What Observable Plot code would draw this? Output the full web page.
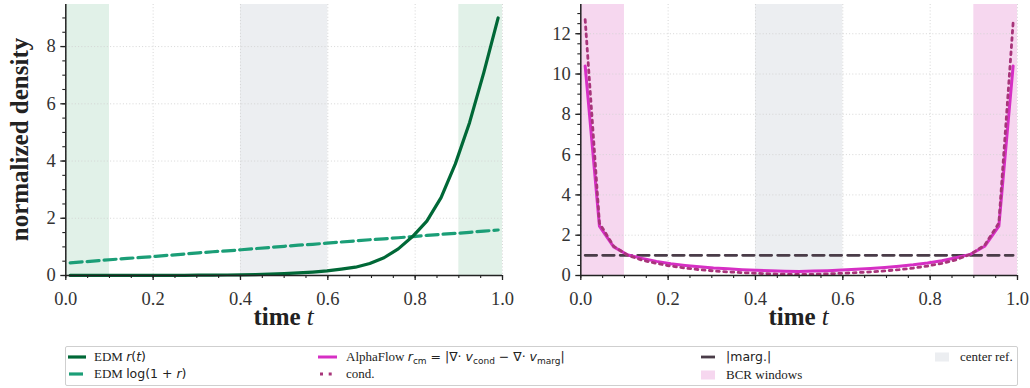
<!DOCTYPE html>
<html><head><meta charset="utf-8">
<script src="https://cdn.jsdelivr.net/npm/d3@7"></script>
<script src="https://cdn.jsdelivr.net/npm/@observablehq/plot@0.6"></script>
<style>
body{margin:0;background:#fff;}
#wrap{position:relative;width:1030px;height:388px;overflow:hidden;font-family:"Liberation Serif",serif;color:#222;}
.panel{position:absolute;top:0;}
#legend{position:absolute;left:65px;top:346px;width:953px;height:40px;border:1px solid #cfcfcf;border-radius:2px;box-sizing:border-box;}
.lt{position:absolute;font-size:13px;line-height:16px;height:16px;white-space:nowrap;color:#222;}
.m{font-family:"DejaVu Sans",sans-serif;font-size:12.5px;}
.mi{font-family:"DejaVu Sans",sans-serif;font-style:italic;font-size:12.5px;}
.sub{font-family:"DejaVu Sans",sans-serif;font-size:9px;position:relative;top:3px;}
#lsvg{position:absolute;left:0;top:0;}
</style></head><body><div id="wrap"></div>
<script>
// ---- data ----
const tGrid = [0.0100,0.0427,0.0753,0.1080,0.1407,0.1733,0.2060,0.2387,0.2713,0.3040,0.3367,0.3693,0.4020,0.4347,0.4673,0.5000,0.5327,0.5653,0.5980,0.6307,0.6633,0.6960,0.7287,0.7613,0.7940,0.8267,0.8593,0.8920,0.9247,0.9573,0.9900];
const edmR = [0.001,0.001,0.002,0.002,0.003,0.003,0.004,0.006,0.007,0.010,0.013,0.018,0.025,0.034,0.047,0.065,0.09,0.12,0.16,0.22,0.29,0.42,0.62,0.93,1.36,1.90,2.72,3.90,5.35,7.10,9.00];
const edmLog = [0.44,0.48,0.52,0.56,0.60,0.63,0.67,0.71,0.75,0.79,0.83,0.86,0.90,0.94,0.98,1.02,1.06,1.09,1.13,1.17,1.21,1.25,1.28,1.32,1.36,1.40,1.44,1.47,1.51,1.55,1.59];
const alphaFlow = [10.4,2.45,1.42,1.02,0.85,0.70,0.58,0.50,0.43,0.37,0.33,0.29,0.26,0.23,0.21,0.20,0.22,0.24,0.27,0.31,0.35,0.40,0.46,0.53,0.62,0.73,0.88,1.05,1.45,2.45,10.4];
const cond = [12.7,2.6,1.45,1.0,0.76,0.60,0.47,0.37,0.29,0.23,0.18,0.14,0.11,0.08,0.06,0.05,0.06,0.08,0.11,0.14,0.18,0.23,0.29,0.37,0.47,0.60,0.78,1.05,1.5,2.6,12.55];
const marg = [1,1,1,1,1,1,1,1,1,1,1,1,1,1,1,1,1,1,1,1,1,1,1,1,1,1,1,1,1,1,1];
const xTicks = [0.0,0.2,0.4,0.6,0.8,1.0];
const xTickLabels = ["0.0","0.2","0.4","0.6","0.8","1.0"];
const yTicksLeft = [0,2,4,6,8];
const yTicksRight = [0,2,4,6,8,10,12];
const bcrWindows = [[0.0,0.1],[0.9,1.0]];
const centerRef = [[0.4,0.6]];

const C = {
  edm:"#006837", edmLog:"#1b9e77", greenBand:"#e1f1e8",
  alpha:"#d62fc4", cond:"#a8357a", marg:"#4a3c48", pinkBand:"#f6d7ef",
  gray:"#eceef1", grid:"#d2d2d2", axis:"#222", label:"#333"
};
const SERIF = "Liberation Serif";

const rows = tGrid.map((t,i)=>({t, r:edmR[i], lg:edmLog[i], a:alphaFlow[i], c:cond[i], m:marg[i]}));

function panel({yMax, yTicks, bandColor, lines}) {
  const minorX = d3.range(0, 1.0001, 0.05);
  const minorY = d3.range(0, yMax, 0.5);
  const txt = {fontFamily: SERIF, fontSize: 18.5};
  return Plot.plot({
    width: 515, height: 335,
    marginLeft: 65.3, marginRight: 13, marginTop: 4, marginBottom: 60,
    x: {domain: [0, 1]},
    y: {domain: [0, yMax]},
    style: {fontFamily: SERIF, fontSize: "18.5px", color: C.axis},
    marks: [
      Plot.rect(bcrWindows, {x1: d=>d[0], x2: d=>d[1], y1: 0, y2: yMax, fill: bandColor}),
      Plot.rect(centerRef, {x1: d=>d[0], x2: d=>d[1], y1: 0, y2: yMax, fill: C.gray}),
      Plot.gridX(xTicks, {stroke: C.grid, strokeOpacity: 1, strokeWidth: 0.9, strokeDasharray: "1,2.2"}),
      Plot.gridY(yTicks, {stroke: C.grid, strokeOpacity: 1, strokeWidth: 0.9, strokeDasharray: "1,2.2"}),
      ...lines,
      Plot.axisX(minorX, {tickSize: 3, tickFormat: () => "", stroke: C.axis, strokeWidth: 1.1, label: null}),
      Plot.axisY(minorY, {tickSize: 3, tickFormat: () => "", stroke: C.axis, strokeWidth: 1.1, label: null}),
      Plot.axisX(xTicks, {...txt, tickSize: 5, tickPadding: 11, tickFormat: (d,i) => xTickLabels[i], stroke: C.axis, strokeWidth: 1.3, fill: C.label, label: null}),
      Plot.axisY(yTicks, {...txt, tickSize: 5, tickPadding: 5, tickFormat: d => String(d), stroke: C.axis, strokeWidth: 1.3, fill: C.label, label: null}),
      Plot.ruleX([0], {stroke: C.axis, strokeWidth: 1.5}),
      Plot.ruleY([0], {stroke: C.axis, strokeWidth: 1.5})
    ]
  });
}

function addXLabel(svg) {
  const s = d3.select(svg);
  const tx = s.append("text").attr("x", 283.6).attr("y", 325).attr("text-anchor", "middle")
    .style("font-family", "'Liberation Serif', serif").style("font-size", "25px").attr("font-weight", "bold").attr("fill", "#222");
  tx.append("tspan").text("time ");
  tx.append("tspan").attr("font-style", "italic").attr("font-weight", "normal").text("t");
}

const wrap = document.getElementById("wrap");

const left = panel({
  yMax: 9.47, yTicks: yTicksLeft, bandColor: C.greenBand,
  lines: [
    Plot.line(rows, {x: "t", y: "lg", stroke: C.edmLog, strokeWidth: 3.2, strokeDasharray: "12,5"}),
    Plot.line(rows, {x: "t", y: "r", stroke: C.edm, strokeWidth: 3.2})
  ]
});
left.classList.add("panel"); left.style.left = "0px";
addXLabel(left);
d3.select(left).append("text").attr("transform", "translate(19,139.5) rotate(-90)")
  .attr("text-anchor", "middle").attr("dominant-baseline", "central")
  .style("font-family", "'Liberation Serif', serif").style("font-size", "25px").attr("font-weight", "bold").attr("fill", "#222")
  .text("normalized density");
wrap.appendChild(left);

const right = panel({
  yMax: 13.45, yTicks: yTicksRight, bandColor: C.pinkBand,
  lines: [
    Plot.line(rows, {x: "t", y: "m", stroke: C.marg, strokeWidth: 2.8, strokeDasharray: "11.5,6"}),
    Plot.line(rows, {x: "t", y: "a", stroke: C.alpha, strokeWidth: 3}),
    Plot.line(rows, {x: "t", y: "c", stroke: C.cond, strokeWidth: 2.8, strokeDasharray: "2.8,4.4"})
  ]
});
right.classList.add("panel"); right.style.left = "515px";
addXLabel(right);
wrap.appendChild(right);

// ---- legend ----
const legend = document.createElement("div");
legend.id = "legend";
wrap.appendChild(legend);
const ox = 65, oy = 346;
const r1 = 356 - oy, r2 = 373 - oy;
const lsvg = d3.select(legend).append("svg").attr("id", "lsvg").attr("width", 953).attr("height", 40);
function hline(x1, x2, y, color, w, dash) {
  const l = lsvg.append("line").attr("x1", x1 - ox).attr("x2", x2 - ox).attr("y1", y).attr("y2", y)
    .attr("stroke", color).attr("stroke-width", w);
  if (dash) l.attr("stroke-dasharray", dash);
}
function patch(x1, x2, y, color) {
  lsvg.append("rect").attr("x", x1 - ox).attr("y", y - 4.5).attr("width", x2 - x1).attr("height", 9).attr("fill", color);
}
hline(67, 85, r1, C.edm, 3.2);
hline(68, 86, r2, C.edmLog, 3.2, "14,10");
hline(317, 336, r1, C.alpha, 3);
hline(319, 334, r2, C.cond, 2.8, "3,5.7");
hline(700, 718, r1, C.marg, 2.8, "14,10");
patch(700, 714, r2 + 1, C.pinkBand);
patch(934, 948, r1, C.gray);

function ltext(x, y, html) {
  const d = document.createElement("div");
  d.className = "lt";
  d.style.left = (x - ox) + "px";
  d.style.top = (y - 8) + "px";
  d.innerHTML = html;
  legend.appendChild(d);
}
ltext(93, r1, 'EDM <span class="mi">r</span><span class="m">(</span><span class="mi">t</span><span class="m">)</span>');
ltext(93, r2, 'EDM <span class="m">log(1 + </span><span class="mi">r</span><span class="m">)</span>');
ltext(345, r1, 'AlphaFlow <span class="mi">r</span><span class="sub">cm</span><span class="m"> = |∇· </span><span class="mi">v</span><span class="sub">cond</span><span class="m"> − ∇· </span><span class="mi">v</span><span class="sub">marg</span><span class="m">|</span>');
ltext(345, r2, 'cond.');
ltext(725, r1, '<span class="m">|marg.|</span>');
ltext(725, r2 + 1, 'BCR windows');
ltext(959, r1, 'center ref.');
</script></body></html>
